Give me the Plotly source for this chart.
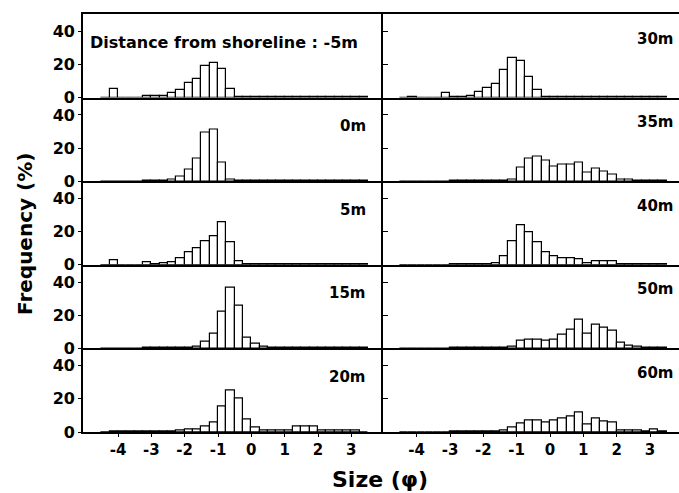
import numpy as np
import plotly.graph_objects as go
from plotly.subplots import make_subplots

# Quarter-phi size classes (lower edge of each class)
bin_lower = np.arange(-4.5, 3.5, 0.25)
bin_width = 0.25

# Frequency (%) per size class at each sampling station
freq_m5 = [0, 5.2, 0, 0, 0, 0.8, 0.8, 1.2, 2.8, 4.8, 9.0, 11.0, 19.0, 21.2, 17.5, 5.2,
           0.5, 0.3, 0.3, 0.3, 0.4, 0.3, 0.3, 0.3, 0.3, 0.3, 0.3, 0.3, 0.3, 0.3, 0.3, 0.3]
freq_0 = [0, 0, 0, 0, 0, 0.5, 0.5, 0.5, 0.8, 2.8, 7.0, 13.4, 29.4, 31.2, 11.2, 1.2,
          0.3, 0.3, 0.3, 0.3, 0.3, 0.3, 0.3, 0.3, 0.3, 0.3, 0.3, 0.3, 0.3, 0.3, 0.3, 0.3]
freq_5 = [0, 2.5, 0, 0, 0, 1.5, 0.5, 1.0, 1.5, 4.0, 7.9, 9.9, 14.5, 17.5, 25.8, 13.9,
          2.2, 0.5, 0.3, 0.3, 0.3, 0.3, 0.3, 0.3, 0.3, 0.3, 0.3, 0.3, 0.3, 0.3, 0.3, 0.3]
freq_15 = [0, 0, 0, 0, 0, 0.3, 0.3, 0.3, 0.3, 0.4, 0.5, 1.0, 3.8, 8.6, 22.0, 36.4,
           25.6, 6.6, 2.8, 0.8, 0.3, 0.3, 0.3, 0.3, 0.3, 0.3, 0.3, 0.3, 0.3, 0.3, 0.3, 0.3]
freq_20 = [0, 0.2, 0.2, 0.2, 0.2, 0.2, 0.2, 0.2, 0.5, 1.2, 1.6, 1.5, 3.4, 6.0, 15.5, 25.0,
           20.2, 7.4, 3.0, 1.0, 0.8, 0.8, 1.0, 3.4, 3.4, 3.4, 1.0, 1.0, 1.0, 1.0, 0.8, 0]
freq_30 = [0, 0.5, 0, 0, 0, 3.0, 0.3, 0.4, 1.0, 3.5, 6.0, 8.0, 16.4, 24.0, 22.4, 12.3,
           4.3, 0.5, 0.3, 0.3, 0.3, 0.3, 0.3, 0.3, 0.3, 0.3, 0.3, 0.3, 0.3, 0.3, 0.3, 0.3]
freq_35 = [0, 0, 0, 0, 0, 0, 0.3, 0.3, 0.3, 0.3, 0.3, 0.3, 0.3, 1.0, 8.0, 13.6,
           14.6, 12.6, 9.0, 10.2, 10.2, 11.0, 5.0, 7.6, 6.0, 4.2, 1.2, 0.8, 0.5, 0.3, 0.3, 0.3]
freq_40 = [0, 0, 0, 0, 0, 0, 0.4, 0.4, 0.4, 0.4, 0.4, 1.0, 5.3, 14.0, 24.0, 19.6,
           13.5, 7.6, 5.0, 4.0, 4.0, 3.4, 1.0, 2.0, 2.0, 2.0, 0.5, 0.3, 0.3, 0.3, 0.3, 0.3]
freq_50 = [0, 0, 0, 0, 0, 0, 0.5, 0.5, 0.5, 0.5, 0.5, 0.5, 0.5, 1.0, 4.4, 5.4,
           5.0, 4.4, 5.0, 8.4, 11.0, 17.0, 9.0, 14.4, 12.4, 10.4, 3.5, 1.5, 1.0, 0.5, 0.3, 0.3]
freq_60 = [0, 0, 0, 0, 0, 0, 0.4, 0.4, 0.4, 0.4, 0.4, 0.4, 0.8, 2.6, 5.2, 7.2,
           7.2, 5.6, 6.8, 8.0, 9.2, 11.6, 4.6, 8.4, 6.6, 5.6, 1.0, 0.8, 0.8, 0.5, 1.5, 0.3]

panel_labels = ["Distance from shoreline : -5m", "0m", "5m", "15m", "20m",
                "30m", "35m", "40m", "50m", "60m"]
panel_series = [freq_m5, freq_0, freq_5, freq_15, freq_20,
                freq_30, freq_35, freq_40, freq_50, freq_60]

y_ticks = [0, 20, 40]
x_ticks = [-4, -3, -2, -1, 0, 1, 2, 3]
x_ticktext = ["-4", "-3", "-2", "-1", "0", "1", "2", "3"]

# ---- layout geometry (pixels) ----
W, H = 679, 493
ML, MR, MT, MB = 83, 0, 14, 61
plot_w, plot_h = W - ML - MR, H - MT - MB
row_h = plot_h / 5

FONT = "DejaVu Sans"
INK = "black"

fig = make_subplots(rows=5, cols=2, horizontal_spacing=0, vertical_spacing=0,
                    column_widths=[300, 296])

centers = bin_lower + bin_width / 2
for i, (label, vals) in enumerate(zip(panel_labels, panel_series)):
    col = 1 if i < 5 else 2
    row = i % 5 + 1
    fig.add_trace(go.Bar(x=centers, y=vals, width=bin_width,
                         marker=dict(color="white", line=dict(color=INK, width=1.2)),
                         showlegend=False, hoverinfo="skip"),
                  row=row, col=col)

    # station label inside each panel; the long heading starts at the left
    top_offset = 28.5 if col == 1 else 24.5
    y_px = MT + (row - 1) * row_h + top_offset
    if i == 0:
        x_px, anchor, size = 88, "left", 16
    else:
        x_px, anchor, size = (368 if col == 1 else 676), "right", 15
    fig.add_annotation(text=label, xref="paper", yref="paper",
                       x=(x_px - ML) / plot_w, y=1 - (y_px - MT) / plot_h,
                       xanchor=anchor, yanchor="middle", showarrow=False,
                       font=dict(family=FONT, size=size, color=INK, weight="bold"))

    bottom = row == 5
    fig.update_xaxes(row=row, col=col,
                     range=[-5.05, 3.95] if col == 1 else [-5.01, 3.87],
                     showgrid=False, zeroline=False,
                     showline=True, linecolor=INK, linewidth=1.6,
                     mirror=(row == 1),
                     tickvals=x_ticks, ticktext=x_ticktext,
                     showticklabels=bottom,
                     ticks="outside" if bottom else "", ticklen=3, tickwidth=1.4,
                     tickcolor=INK,
                     tickfont=dict(family=FONT, size=15, color=INK, weight="bold"))
    fig.update_yaxes(row=row, col=col,
                     range=[0, 50.5],
                     showgrid=False, zeroline=False,
                     showline=True, linecolor=INK, linewidth=1.6,
                     tickvals=y_ticks if col == 1 else [20, 40],
                     showticklabels=(col == 1),
                     ticks="outside" if col == 1 else "inside",
                     ticklen=3 if col == 1 else 5, tickwidth=1.4, tickcolor=INK,
                     tickfont=dict(family=FONT, size=16, color=INK, weight="bold"))

# axis titles
fig.add_annotation(text="Frequency (%)", xref="paper", yref="paper",
                   x=(25 - ML) / plot_w, y=1 - (234 - MT) / plot_h,
                   xanchor="center", yanchor="middle", textangle=-90, showarrow=False,
                   font=dict(family=FONT, size=20, color=INK, weight="bold"))
fig.add_annotation(text="Size (\u03c6)", xref="paper", yref="paper",
                   x=(380 - ML) / plot_w, y=1 - (479 - MT) / plot_h,
                   xanchor="center", yanchor="middle", showarrow=False,
                   font=dict(family=FONT, size=22, color=INK, weight="bold"))

fig.update_layout(width=W, height=H,
                  margin=dict(l=ML, r=MR, t=MT, b=MB, pad=0),
                  paper_bgcolor="white", plot_bgcolor="white",
                  bargap=0)

fig.write_html("out.html")
